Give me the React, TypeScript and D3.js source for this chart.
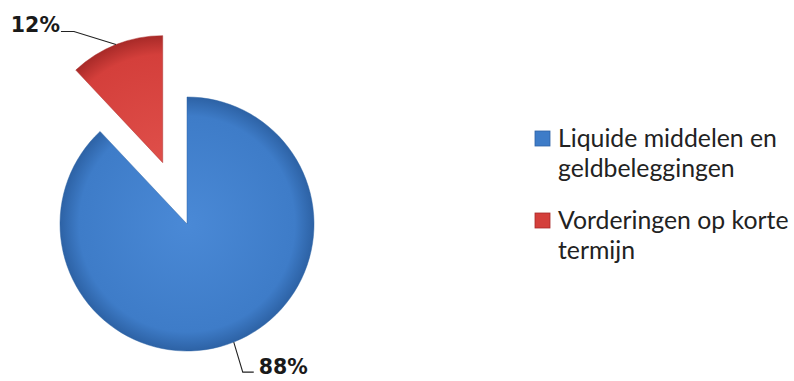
import React from "react";
import * as d3 from "d3";

const categories = ["Liquide middelen en geldbeleggingen", "Vorderingen op korte termijn"];
const legendLines = [["Liquide middelen en", "geldbeleggingen"], ["Vorderingen op korte", "termijn"]];
const values = [88, 12];
const labels = ["88%", "12%"];
const colors = ["#3e7cc8", "#d43f3b"];
const edgeColors = ["#2d62a5", "#a82a28"];
const lightColors = ["#4a89d6", "#df4f4a"];

const W = 794;
const H = 381;
const cx = 187;
const cy = 224;
const R = 127;
const explode = [0, 66];

export default function App() {
  const pie = d3.pie<number>().sort(null).startAngle(0).endAngle(2 * Math.PI);
  const arcs = pie(values);
  const arc = d3.arc<d3.PieArcDatum<number>>().innerRadius(0).outerRadius(R);

  const info = arcs.map((a, i) => {
    const mid = (a.startAngle + a.endAngle) / 2;
    const dx = explode[i] * Math.sin(mid);
    const dy = -explode[i] * Math.cos(mid);
    const px = cx + dx + R * Math.sin(mid);
    const py = cy + dy - R * Math.cos(mid);
    return { a, mid, dx, dy, px, py };
  });

  const labelLayout = [
    { bx: 9, by: 30, ex: 20, tx: 25, ty: 32, anchor: "start" },
    { bx: -42, by: -13, ex: -55, tx: -56, ty: -13, anchor: "end" },
  ];

  return (
    <svg width={W} height={H} style={{ position: "absolute", left: 0, top: 0, background: "#fff" }}>
      <defs>
        {colors.map((c, i) => (
          <radialGradient key={i} id={`g${i}`} gradientUnits="userSpaceOnUse" cx={0} cy={0} r={R}>
            <stop offset="0%" stopColor={lightColors[i]} />
            <stop offset="85%" stopColor={c} />
            <stop offset="100%" stopColor={edgeColors[i]} />
          </radialGradient>
        ))}
      </defs>
      {info.map((d, i) => (
        <g key={i} transform={`translate(${cx + d.dx},${cy + d.dy})`}>
          <path d={arc(d.a) || ""} fill={`url(#g${i})`} stroke={edgeColors[i]} strokeWidth={0.8} strokeOpacity={0.6} />
        </g>
      ))}
      {info.map((d, i) => {
        const L = labelLayout[i];
        const bx = d.px + L.bx;
        const by = d.py + L.by;
        const ex = d.px + L.ex;
        return (
          <g key={"l" + i}>
            <polyline points={`${d.px},${d.py} ${bx},${by} ${ex},${by}`} fill="none" stroke="#222" strokeWidth={1.1} />
            <text x={d.px + L.tx} y={d.py + L.ty} textAnchor={L.anchor as any} fontFamily="DejaVu Sans" fontWeight="bold" fontSize={20.5} fill="#1a1a1a">
              {labels[i]}
            </text>
          </g>
        );
      })}
      {categories.map((c, i) => (
        <g key={"leg" + i} transform={`translate(535,${131 + i * 82})`}>
          <rect x={0} y={0} width={15} height={15} fill={colors[i]} stroke={edgeColors[i]} strokeWidth={0.8} />
          <text x={23} y={16} fontFamily="Lato" fontSize={24.8} fill="#222">
            {legendLines[i].map((ln, j) => (
              <tspan key={j} x={23} dy={j === 0 ? 0 : 29.5}>{ln}</tspan>
            ))}
          </text>
        </g>
      ))}
    </svg>
  );
}
